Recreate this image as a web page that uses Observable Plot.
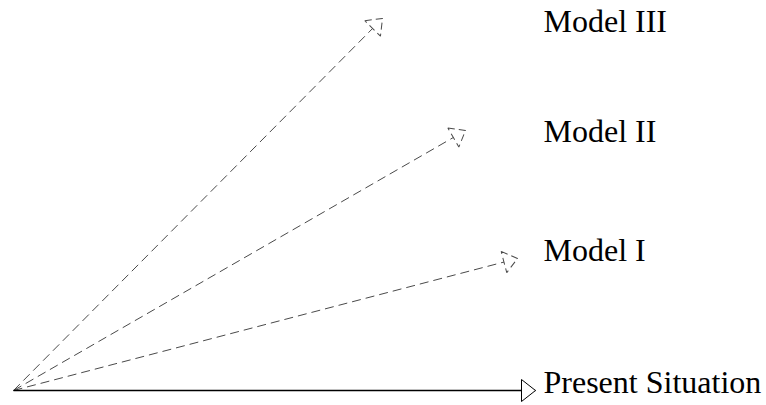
<!DOCTYPE html>
<html>
<head>
<meta charset="utf-8">
<script src="https://cdn.jsdelivr.net/npm/d3@7"></script>
<script src="https://cdn.jsdelivr.net/npm/@observablehq/plot@0.6"></script>
<style>
  html, body { margin: 0; padding: 0; background: #fff; }
  #chart svg { display: block; }
  #chart svg text { font-family: "Liberation Serif", "Times New Roman", "DejaVu Serif", serif !important; }
</style>
</head>
<body>
<div id="chart"></div>
<script>
// Data
const scenarios = ["Present Situation", "Model I", "Model II", "Model III"];
const tipX = [522, 504, 452, 369];     // horizontal extent of each arrow
const tipY = [0, 132, 260, 372];       // vertical rise of each arrow
const labelY = [-2, 130, 249, 359];    // label baseline level
const labelX = 530;                     // label column

const rows = scenarios.map((name, i) => ({
  name, x1: 0, y1: 0, x2: tipX[i], y2: tipY[i], ly: labelY[i], dashed: i > 0
}));

function triangle(dash) {
  return (color, context) => {
    const doc = (context && context.document) || document;
    const ns = "http://www.w3.org/2000/svg";
    const m = doc.createElementNS(ns, "marker");
    m.setAttribute("viewBox", "-16 -14 18 28");
    m.setAttribute("markerWidth", 18);
    m.setAttribute("markerHeight", 28);
    m.setAttribute("markerUnits", "userSpaceOnUse");
    m.setAttribute("orient", "auto");
    m.setAttribute("refX", 0);
    m.setAttribute("refY", 0);
    m.setAttribute("overflow", "visible");
    const p = doc.createElementNS(ns, "path");
    p.setAttribute("d", "M-14,-11L0,0L-14,11Z");
    p.setAttribute("fill", "white");
    p.setAttribute("stroke", color);
    p.setAttribute("stroke-width", 1);
    if (dash) p.setAttribute("stroke-dasharray", dash);
    m.appendChild(p);
    return m;
  };
}

const chart = Plot.plot({
  width: 766,
  height: 405,
  marginLeft: 13,
  marginRight: 0,
  marginTop: 0,
  marginBottom: 15,
  style: {fontFamily: "'Liberation Serif', 'Times New Roman', serif"},
  x: {domain: [0, 753], axis: null},
  y: {domain: [0, 390], axis: null},
  marks: [
    Plot.link(rows.filter(d => d.dashed), {
      x1: "x1", y1: "y1", x2: "x2", y2: "y2",
      stroke: "#4a4a4a", strokeWidth: 1, strokeDasharray: "9,5",
      markerEnd: triangle("7,4")
    }),
    Plot.link(rows.filter(d => !d.dashed), {
      x1: "x1", y1: "y1", x2: "x2", y2: "y2",
      stroke: "#000", strokeWidth: 1.3,
      markerEnd: triangle(null)
    }),
    Plot.text(rows, {
      x: () => labelX, y: "ly", text: "name",
      textAnchor: "start", lineAnchor: "bottom",
      fontFamily: "'Liberation Serif', 'Times New Roman', serif", fontSize: 32, fill: "#000"
    })
  ]
});
document.getElementById("chart").appendChild(chart);
</script>
</body>
</html>
